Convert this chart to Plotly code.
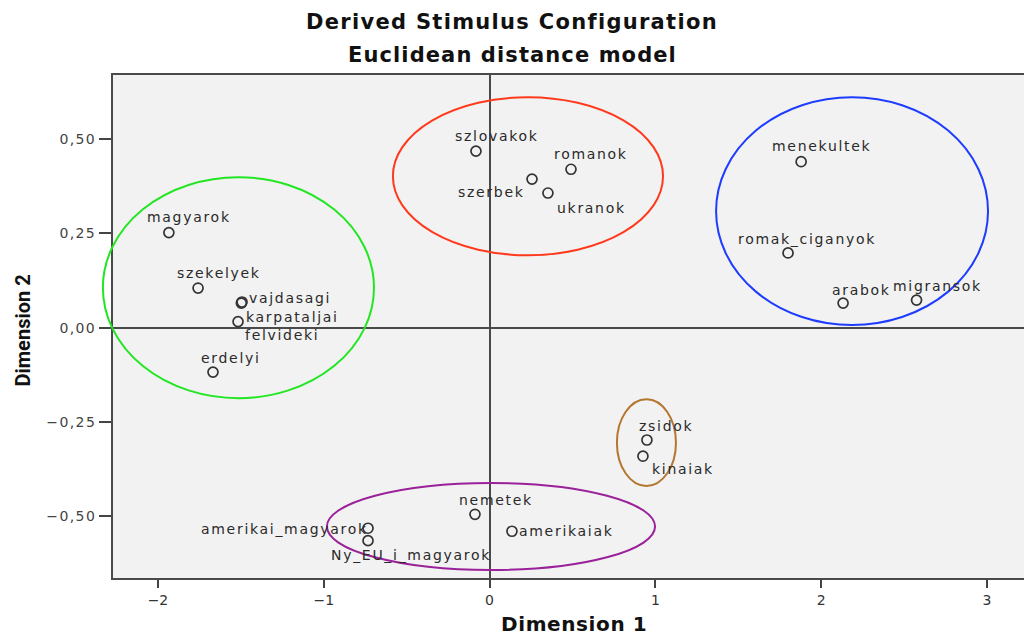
import plotly.graph_objects as go

# Stimulus coordinates in the two-dimensional Euclidean solution
names = [
    "magyarok", "szekelyek", "vajdasagi", "karpataljai", "felvideki", "erdelyi",
    "szlovakok", "romanok", "szerbek", "ukranok",
    "menekultek", "romak_ciganyok", "arabok", "migransok",
    "zsidok", "kinaiak",
    "nemetek", "amerikai_magyarok", "Ny_EU_i_magyarok", "amerikaiak",
]
dim1 = [
    -1.934, -1.758, -1.493, -1.497, -1.517, -1.668,
    -0.082, 0.491, 0.256, 0.352,
    1.879, 1.800, 2.132, 2.575,
    0.949, 0.925,
    -0.088, -0.733, -0.733, 0.135,
]
dim2 = [
    0.252, 0.105, 0.068, 0.065, 0.016, -0.118,
    0.468, 0.420, 0.394, 0.357,
    0.440, 0.198, 0.065, 0.073,
    -0.298, -0.341,
    -0.495, -0.532, -0.565, -0.540,
]

x_tick_vals = [-2, -1, 0, 1, 2, 3]
x_tick_text = ["\u22122", "\u22121", "0", "1", "2", "3"]
y_tick_vals = [0.50, 0.25, 0.00, -0.25, -0.50]
y_tick_text = ["0,50", "0,25", "0,00", "\u22120,25", "\u22120,50"]

X_RANGE = [-2.271, 3.223]
Y_RANGE = [-0.664, 0.670]

# Group outlines: (x min, x max, y min, y max, colour) in dimension units
groups = [
    (-2.332, -0.697, -0.187, 0.399, "#22e622"),
    (-0.583, 1.046, 0.192, 0.611, "#ff3a1c"),
    (1.366, 3.006, 0.007, 0.611, "#1e3cff"),
    (0.768, 1.124, -0.420, -0.190, "#b5762f"),
    (-0.981, 0.998, -0.643, -0.412, "#9a2199"),
]

# Point label placement: (xanchor, xshift px, yshift px)
label_place = {
    "magyarok": ("center", 20, 16),
    "szekelyek": ("center", 21, 15),
    "vajdasagi": ("left", 5, 4),
    "karpataljai": ("left", 3, -14),
    "felvideki": ("left", 5, -13),
    "erdelyi": ("center", 18, 14),
    "szlovakok": ("center", 21, 15),
    "romanok": ("center", 20, 15),
    "szerbek": ("right", -5, -13),
    "ukranok": ("left", 7, -15),
    "menekultek": ("center", 20, 16),
    "romak_ciganyok": ("center", 19, 14),
    "arabok": ("center", 18, 13),
    "migransok": ("center", 21, 14),
    "zsidok": ("center", 19, 14),
    "kinaiak": ("left", 7, -13),
    "nemetek": ("center", 21, 14),
    "amerikai_magyarok": ("right", 2, -1),
    "Ny_EU_i_magyarok": ("center", 43, -14),
    "amerikaiak": ("left", 5, 0),
}


def spaced(text, px):
    return f"<span style='letter-spacing:{px}px'>{text}</span>"


def to_paper_x(v):
    return (v - X_RANGE[0]) / (X_RANGE[1] - X_RANGE[0])


def to_paper_y(v):
    return (v - Y_RANGE[0]) / (Y_RANGE[1] - Y_RANGE[0])


fig = go.Figure()
fig.add_trace(go.Scatter(
    x=dim1, y=dim2, mode="markers",
    marker=dict(symbol="circle-open", size=10, color="#333333",
                line=dict(width=1.7, color="#333333")),
    hoverinfo="text", text=names, showlegend=False,
))

label_font = dict(family="DejaVu Sans", size=14, color="#2a2a2a")
annotations = []
for n, xv, yv in zip(names, dim1, dim2):
    anchor, dx, dy = label_place[n]
    annotations.append(dict(
        x=xv, y=yv, xref="x", yref="y", showarrow=False,
        text=spaced(n, 1.7), font=label_font,
        xanchor=anchor, yanchor="middle", xshift=dx, yshift=dy,
    ))

title_font = dict(family="DejaVu Sans", size=21, color="#111111", weight="bold")
annotations += [
    dict(x=(512 - 113) / 911, y=1, xref="paper", yref="paper", showarrow=False,
         text=spaced("Derived Stimulus Configuration", 1.3), font=title_font,
         xanchor="center", yanchor="middle", yshift=53),
    dict(x=(512 - 113) / 911, y=1, xref="paper", yref="paper", showarrow=False,
         text=spaced("Euclidean distance model", 1.1), font=title_font,
         xanchor="center", yanchor="middle", yshift=20),
    dict(x=0.5, y=0, xref="paper", yref="paper", showarrow=False,
         text=spaced("Dimension 1", 0.6),
         font=dict(family="DejaVu Sans", size=20, color="#111111", weight="bold"),
         xanchor="center", yanchor="middle", xshift=5, yshift=-46),
    dict(x=0, y=0.5, xref="paper", yref="paper", showarrow=False,
         text="Dimension 2", textangle=-90,
         font=dict(family="Liberation Sans Narrow, Roboto, sans-serif", size=20,
                   color="#111111", weight="bold"),
         xanchor="center", yanchor="middle", xshift=-91, yshift=-4),
]

shapes = []
for x0, x1, y0, y1, col in groups:
    shapes.append(dict(
        type="circle", xref="paper", yref="paper",
        x0=to_paper_x(x0), x1=to_paper_x(x1),
        y0=to_paper_y(y0), y1=to_paper_y(y1),
        line=dict(color=col, width=2), fillcolor="rgba(0,0,0,0)",
    ))

fig.update_layout(
    width=1024, height=637,
    margin=dict(l=113, r=0, t=75, b=59),
    paper_bgcolor="white", plot_bgcolor="#f2f2f2",
    annotations=annotations, shapes=shapes,
    xaxis=dict(
        range=X_RANGE, tickvals=x_tick_vals, ticktext=x_tick_text,
        showgrid=False, zeroline=True, zerolinecolor="#4a4a4a", zerolinewidth=2,
        showline=True, linecolor="#4a4a4a", linewidth=2, mirror=True,
        ticks="outside", ticklen=8, tickwidth=2, tickcolor="#444444",
        tickfont=dict(family="DejaVu Sans", size=14, color="#333333"),
    ),
    yaxis=dict(
        range=Y_RANGE, tickvals=y_tick_vals,
        ticktext=[spaced(t, 1.4) for t in y_tick_text],
        showgrid=False, zeroline=True, zerolinecolor="#4a4a4a", zerolinewidth=2,
        showline=True, linecolor="#4a4a4a", linewidth=2,
        ticks="outside", ticklen=12, tickwidth=2, tickcolor="#444444",
        tickfont=dict(family="DejaVu Sans", size=14, color="#444444"),
    ),
)

fig.write_html("out.html")
